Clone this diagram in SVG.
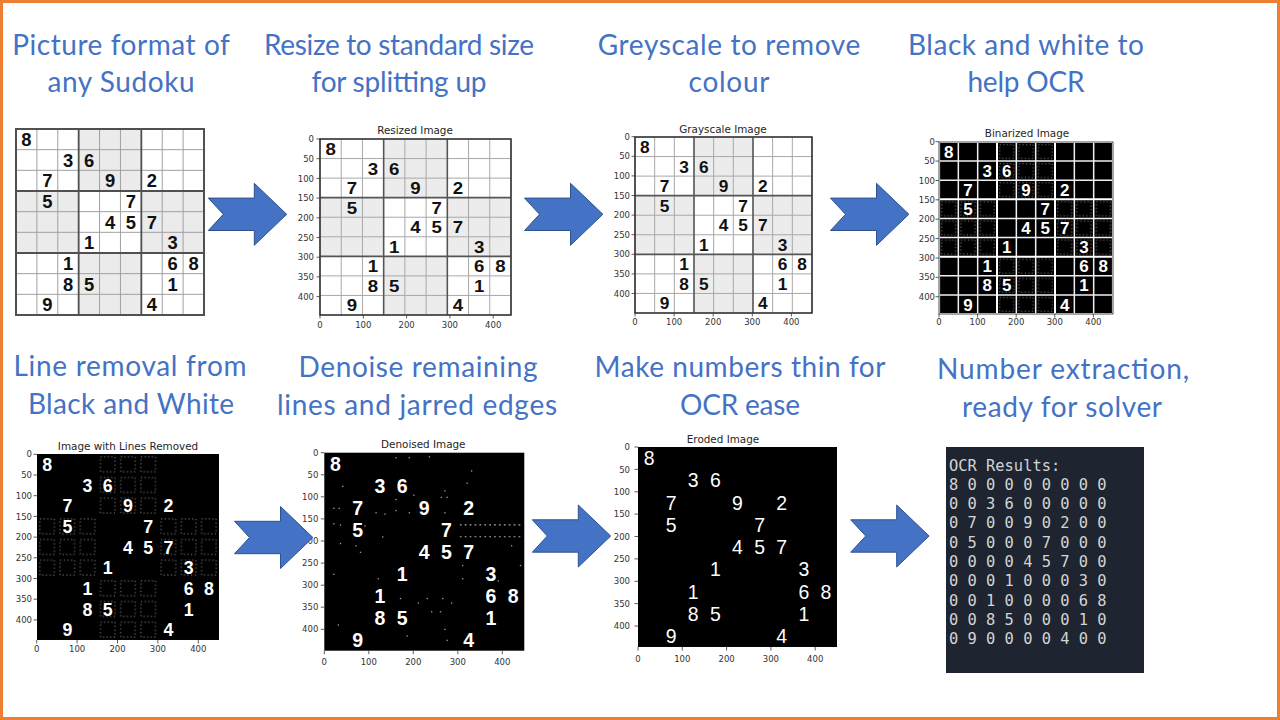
<svg xmlns="http://www.w3.org/2000/svg" xmlns:xlink="http://www.w3.org/1999/xlink" width="1280" height="720" viewBox="0 0 1280 720">
<style>
.hd{font-family:Lato,'Open Sans','Liberation Sans',sans-serif;font-size:28px;fill:#4472C4;text-anchor:middle}
.tt{font-family:'DejaVu Sans',sans-serif;font-size:10.4px;fill:#262626;text-anchor:middle}
.tx{font-family:'DejaVu Sans',sans-serif;font-size:8.5px;fill:#333;text-anchor:middle}
.ty{font-family:'DejaVu Sans',sans-serif;font-size:8.5px;fill:#333;text-anchor:end}
.tick{stroke:#333;stroke-width:0.8;fill:none}
.frame{fill:none;stroke:#222;stroke-width:0.8}
.arrow{fill:#4472C4;stroke:#2F528F;stroke-width:1}
.dg{font-family:'Liberation Sans',Arial,sans-serif;text-anchor:middle}
.ns{vector-effect:non-scaling-stroke}
.ocr{font-family:'DejaVu Sans Mono',monospace;font-size:15.4px;fill:#d4d4d4}
</style>
<defs>
<path id="arw" d="M0,-16.2 H46 V-31 L78.4,0 L46,31 V16.2 H0 L15,0 Z"/>
<g id="shade">
<rect x="150" y="0" width="150" height="150"/><rect x="0" y="150" width="150" height="150"/><rect x="300" y="150" width="150" height="150"/><rect x="150" y="300" width="150" height="150"/>
</g>
<path id="thin" class="ns" fill="none" d="M50 0V450M100 0V450M200 0V450M250 0V450M350 0V450M400 0V450M0 50H450M0 100H450M0 200H450M0 250H450M0 350H450M0 400H450"/>
<path id="thick" class="ns" fill="none" d="M150 0V450M300 0V450M0 150H450M0 300H450"/>
<rect id="border" class="ns" fill="none" x="0" y="0" width="450" height="450"/>
<pattern id="res" width="50" height="50" patternUnits="userSpaceOnUse">
<rect x="7" y="7" width="36" height="36" fill="none" stroke="#9a9a9a" stroke-width="2" stroke-dasharray="3 6"/>
</pattern>
<g id="residue" fill="url(#res)">
<rect x="150" y="0" width="150" height="150"/><rect x="0" y="150" width="150" height="150"/><rect x="300" y="150" width="150" height="150"/><rect x="150" y="300" width="150" height="150"/>
</g>
<g id="digits" class="dg">
<text x="25" y="41">8</text>
<text x="125" y="91">3</text><text x="175" y="91">6</text>
<text x="75" y="141">7</text><text x="225" y="141">9</text><text x="325" y="141">2</text>
<text x="75" y="191">5</text><text x="275" y="191">7</text>
<text x="225" y="241">4</text><text x="275" y="241">5</text><text x="325" y="241">7</text>
<text x="175" y="291">1</text><text x="375" y="291">3</text>
<text x="125" y="341">1</text><text x="375" y="341">6</text><text x="425" y="341">8</text>
<text x="125" y="391">8</text><text x="175" y="391">5</text><text x="375" y="391">1</text>
<text x="75" y="441">9</text><text x="325" y="441">4</text>
</g>
</defs>

<rect x="0" y="0" width="1280" height="720" fill="#ffffff"/>
<rect x="1.5" y="1.5" width="1277" height="717" fill="none" stroke="#ED7D31" stroke-width="3"/>

<g id="headings">
<g id="h1"><text class="hd" x="121" y="55" textLength="217.7">Picture format of</text><text class="hd" x="121" y="92" textLength="147.1">any Sudoku</text></g>
<g id="h2"><text class="hd" x="399" y="55" textLength="270">Resize to standard size</text><text class="hd" x="399" y="92" textLength="175">for splitting up</text></g>
<g id="h3"><text class="hd" x="729" y="55" textLength="262.5">Greyscale to remove</text><text class="hd" x="729" y="92" textLength="80.8">colour</text></g>
<g id="h4"><text class="hd" x="1026" y="55" textLength="236">Black and white to</text><text class="hd" x="1026" y="92" textLength="117.1">help OCR</text></g>
<g id="h5"><text class="hd" x="130" y="376" textLength="233">Line removal from</text><text class="hd" x="131" y="414" textLength="206.2">Black and White</text></g>
<g id="h6"><text class="hd" x="418" y="377" textLength="239">Denoise remaining</text><text class="hd" x="417" y="415" textLength="280">lines and jarred edges</text></g>
<g id="h7"><text class="hd" x="740" y="377" textLength="291">Make numbers thin for</text><text class="hd" x="740" y="415" textLength="119.9">OCR ease</text></g>
<g id="h8"><text class="hd" x="1063" y="379" textLength="252">Number extraction,</text><text class="hd" x="1062" y="417" textLength="200">ready for solver</text></g>
</g>

<g id="original">
<g transform="translate(16,129) scale(0.4178,0.4133)">
<rect x="0" y="0" width="450" height="450" fill="#fff"/>
<use xlink:href="#shade" fill="#ebebeb"/>
<use xlink:href="#thin" stroke="#a0a0a0" stroke-width="1"/>
<use xlink:href="#thick" stroke="#505050" stroke-width="1.8"/>
<use xlink:href="#border" stroke="#505050" stroke-width="2"/>
<use xlink:href="#digits" fill="#111" font-weight="bold" font-size="44"/>
</g>
</g>

<g id="resized">
<text class="tt" x="415" y="133.8">Resized Image</text>
<g transform="translate(320,139) scale(0.4244,0.3911)">
<rect x="0" y="0" width="450" height="450" fill="#fff"/>
<use xlink:href="#shade" fill="#ececec"/>
<use xlink:href="#thin" stroke="#a8a8a8" stroke-width="1"/>
<use xlink:href="#thick" stroke="#555" stroke-width="1.6"/>
<use xlink:href="#border" stroke="#555" stroke-width="1.6"/>
<use xlink:href="#digits" fill="#111" font-weight="bold" font-size="44"/>
</g>
<rect class="frame" x="320" y="139" width="191" height="176"/>
<path class="tick" d="M320 315v3.5M363.3 315v3.5M406.6 315v3.5M449.9 315v3.5M493.2 315v3.5M316.5 139h3.5M316.5 158.7h3.5M316.5 178.4h3.5M316.5 198.1h3.5M316.5 217.8h3.5M316.5 237.5h3.5M316.5 257.2h3.5M316.5 276.9h3.5M316.5 296.6h3.5"/>
<text class="tx" x="320" y="328">0</text><text class="tx" x="363.3" y="328">100</text><text class="tx" x="406.6" y="328">200</text><text class="tx" x="449.9" y="328">300</text><text class="tx" x="493.2" y="328">400</text>
<text class="ty" x="314" y="142.1">0</text><text class="ty" x="314" y="161.8">50</text><text class="ty" x="314" y="181.5">100</text><text class="ty" x="314" y="201.2">150</text><text class="ty" x="314" y="220.9">200</text><text class="ty" x="314" y="240.6">250</text><text class="ty" x="314" y="260.3">300</text><text class="ty" x="314" y="280">350</text><text class="ty" x="314" y="299.7">400</text>
</g>

<g id="grayscale">
<text class="tt" x="723" y="133.1">Grayscale Image</text>
<g transform="translate(635,137) scale(0.3933,0.3911)">
<rect x="0" y="0" width="450" height="450" fill="#fff"/>
<use xlink:href="#shade" fill="#ececec"/>
<use xlink:href="#thin" stroke="#a8a8a8" stroke-width="1"/>
<use xlink:href="#thick" stroke="#555" stroke-width="1.6"/>
<use xlink:href="#border" stroke="#555" stroke-width="1.6"/>
<use xlink:href="#digits" fill="#111" font-weight="bold" font-size="44"/>
</g>
<rect class="frame" x="635" y="137" width="177" height="176"/>
<path class="tick" d="M635 313v3.5M674.1 313v3.5M713.2 313v3.5M752.3 313v3.5M791.4 313v3.5M631.5 136.7h3.5M631.5 156.3h3.5M631.5 175.9h3.5M631.5 195.5h3.5M631.5 215.1h3.5M631.5 234.7h3.5M631.5 254.3h3.5M631.5 273.9h3.5M631.5 293.5h3.5"/>
<text class="tx" x="635" y="325">0</text><text class="tx" x="674.1" y="325">100</text><text class="tx" x="713.2" y="325">200</text><text class="tx" x="752.3" y="325">300</text><text class="tx" x="791.4" y="325">400</text>
<text class="ty" x="630" y="139.8">0</text><text class="ty" x="630" y="159.4">50</text><text class="ty" x="630" y="179">100</text><text class="ty" x="630" y="198.6">150</text><text class="ty" x="630" y="218.2">200</text><text class="ty" x="630" y="237.8">250</text><text class="ty" x="630" y="257.4">300</text><text class="ty" x="630" y="277">350</text><text class="ty" x="630" y="296.6">400</text>
</g>

<g id="binarized">
<text class="tt" x="1027" y="136.5">Binarized Image</text>
<g transform="translate(939,142) scale(0.3867,0.3822)">
<rect x="0" y="0" width="450" height="450" fill="#000"/>
<use xlink:href="#residue"/>
<use xlink:href="#thin" stroke="#f0f0f0" stroke-width="1.5"/>
<use xlink:href="#thick" stroke="#fff" stroke-width="2"/>
<use xlink:href="#border" stroke="#fff" stroke-width="2.2"/>
<use xlink:href="#digits" fill="#fff" font-weight="bold" font-size="44"/>
</g>
<rect class="frame" x="939" y="142" width="174" height="172"/>
<path class="tick" d="M939 314v3.5M977.6 314v3.5M1016.2 314v3.5M1054.8 314v3.5M1093.4 314v3.5M935.5 141.7h3.5M935.5 161.1h3.5M935.5 180.5h3.5M935.5 199.8h3.5M935.5 219.2h3.5M935.5 238.6h3.5M935.5 258h3.5M935.5 277.3h3.5M935.5 296.7h3.5"/>
<text class="tx" x="939" y="325">0</text><text class="tx" x="977.6" y="325">100</text><text class="tx" x="1016.2" y="325">200</text><text class="tx" x="1054.8" y="325">300</text><text class="tx" x="1093.4" y="325">400</text>
<text class="ty" x="935" y="144.8">0</text><text class="ty" x="935" y="164.2">50</text><text class="ty" x="935" y="183.6">100</text><text class="ty" x="935" y="202.9">150</text><text class="ty" x="935" y="222.3">200</text><text class="ty" x="935" y="241.7">250</text><text class="ty" x="935" y="261.1">300</text><text class="ty" x="935" y="280.4">350</text><text class="ty" x="935" y="299.8">400</text>
</g>

<g id="lines-removed">
<text class="tt" x="128" y="449.8">Image with Lines Removed</text>
<g transform="translate(37,454) scale(0.4044,0.4133)">
<rect x="0" y="0" width="450" height="450" fill="#000"/>
<use xlink:href="#residue"/>
<use xlink:href="#digits" fill="#fff" font-weight="bold" font-size="44"/>
</g>
<path class="tick" d="M36.7 640v3.5M77.1 640v3.5M117.5 640v3.5M157.9 640v3.5M198.3 640v3.5M33.5 454.3h3.5M33.5 475h3.5M33.5 495.7h3.5M33.5 516.4h3.5M33.5 537.1h3.5M33.5 557.8h3.5M33.5 578.5h3.5M33.5 599.2h3.5M33.5 619.9h3.5"/>
<text class="tx" x="36.7" y="651.5">0</text><text class="tx" x="77.1" y="651.5">100</text><text class="tx" x="117.5" y="651.5">200</text><text class="tx" x="157.9" y="651.5">300</text><text class="tx" x="198.3" y="651.5">400</text>
<text class="ty" x="32" y="457.4">0</text><text class="ty" x="32" y="478.1">50</text><text class="ty" x="32" y="498.8">100</text><text class="ty" x="32" y="519.5">150</text><text class="ty" x="32" y="540.2">200</text><text class="ty" x="32" y="560.9">250</text><text class="ty" x="32" y="581.6">300</text><text class="ty" x="32" y="602.3">350</text><text class="ty" x="32" y="623">400</text>
</g>

<g id="denoised">
<text class="tt" x="423.3" y="447.8">Denoised Image</text>
<g transform="translate(324.3,452.7) scale(0.4444,0.44)">
<rect x="0" y="0" width="450" height="450" fill="#000"/>
<path d="M305 164H445M305 191H445" stroke="#aaa" stroke-width="2.5" stroke-dasharray="4 7"/>
<g fill="#9a9a9a">
<rect x="160" y="10" width="3" height="3"/><rect x="190" y="10" width="3" height="3"/><rect x="235" y="8" width="3" height="3"/><rect x="330" y="40" width="3" height="3"/><rect x="320" y="68" width="3" height="3"/><rect x="40" y="75" width="3" height="3"/><rect x="200" y="95" width="3" height="3"/><rect x="262" y="100" width="3" height="3"/><rect x="275" y="100" width="3" height="3"/><rect x="270" y="85" width="3" height="3"/><rect x="160" y="105" width="3" height="3"/><rect x="20" y="125" width="3" height="3"/><rect x="32" y="125" width="3" height="3"/><rect x="115" y="135" width="3" height="3"/><rect x="135" y="138" width="3" height="3"/><rect x="160" y="130" width="3" height="3"/><rect x="190" y="135" width="3" height="3"/><rect x="270" y="135" width="3" height="3"/><rect x="20" y="160" width="3" height="3"/><rect x="35" y="163" width="3" height="3"/><rect x="90" y="165" width="3" height="3"/><rect x="130" y="190" width="3" height="3"/><rect x="35" y="205" width="3" height="3"/><rect x="70" y="210" width="3" height="3"/><rect x="80" y="225" width="3" height="3"/><rect x="420" y="210" width="3" height="3"/><rect x="440" y="255" width="3" height="3"/><rect x="20" y="275" width="3" height="3"/><rect x="120" y="285" width="3" height="3"/><rect x="310" y="285" width="3" height="3"/><rect x="390" y="290" width="3" height="3"/><rect x="310" y="255" width="3" height="3"/><rect x="170" y="330" width="3" height="3"/><rect x="210" y="340" width="3" height="3"/><rect x="230" y="330" width="3" height="3"/><rect x="265" y="330" width="3" height="3"/><rect x="285" y="340" width="3" height="3"/><rect x="240" y="360" width="3" height="3"/><rect x="260" y="360" width="3" height="3"/><rect x="30" y="390" width="3" height="3"/><rect x="185" y="415" width="3" height="3"/><rect x="270" y="400" width="3" height="3"/><rect x="275" y="425" width="3" height="3"/>
</g>
<use xlink:href="#digits" fill="#fff" font-weight="bold" font-size="44"/>
</g>
<path class="tick" d="M324.3 650.7v3.5M368.8 650.7v3.5M413.3 650.7v3.5M457.8 650.7v3.5M502.3 650.7v3.5M320.8 452.7h3.5M320.8 474.8h3.5M320.8 496.8h3.5M320.8 518.9h3.5M320.8 541h3.5M320.8 563.1h3.5M320.8 585.2h3.5M320.8 607.2h3.5M320.8 629.3h3.5"/>
<text class="tx" x="324.3" y="665">0</text><text class="tx" x="368.8" y="665">100</text><text class="tx" x="413.3" y="665">200</text><text class="tx" x="457.8" y="665">300</text><text class="tx" x="502.3" y="665">400</text>
<text class="ty" x="318.3" y="455.8">0</text><text class="ty" x="318.3" y="477.9">50</text><text class="ty" x="318.3" y="499.9">100</text><text class="ty" x="318.3" y="522">150</text><text class="ty" x="318.3" y="544.1">200</text><text class="ty" x="318.3" y="566.2">250</text><text class="ty" x="318.3" y="588.3">300</text><text class="ty" x="318.3" y="610.3">350</text><text class="ty" x="318.3" y="632.4">400</text>
</g>

<g id="eroded">
<text class="tt" x="723" y="443.1">Eroded Image</text>
<g transform="translate(638,447) scale(0.4422,0.4444)">
<rect x="0" y="0" width="450" height="450" fill="#000"/>
<use xlink:href="#digits" fill="#fff" font-weight="normal" font-size="44"/>
</g>
<path class="tick" d="M638 647v3.5M682.3 647v3.5M726.6 647v3.5M770.9 647v3.5M815.2 647v3.5M634.5 447h3.5M634.5 469.4h3.5M634.5 491.8h3.5M634.5 514.1h3.5M634.5 536.5h3.5M634.5 558.9h3.5M634.5 581.3h3.5M634.5 603.6h3.5M634.5 626h3.5"/>
<text class="tx" x="638" y="661.5">0</text><text class="tx" x="682.3" y="661.5">100</text><text class="tx" x="726.6" y="661.5">200</text><text class="tx" x="770.9" y="661.5">300</text><text class="tx" x="815.2" y="661.5">400</text>
<text class="ty" x="630" y="450.1">0</text><text class="ty" x="630" y="472.5">50</text><text class="ty" x="630" y="494.9">100</text><text class="ty" x="630" y="517.2">150</text><text class="ty" x="630" y="539.6">200</text><text class="ty" x="630" y="562">250</text><text class="ty" x="630" y="584.4">300</text><text class="ty" x="630" y="606.7">350</text><text class="ty" x="630" y="629.1">400</text>
</g>

<g id="ocr-results">
<rect x="946" y="447" width="198" height="226" fill="#1e2530"/>
<g class="ocr">
<text x="949" y="470.5">OCR Results:</text>
<text x="949" y="489.8">8 0 0 0 0 0 0 0 0</text>
<text x="949" y="509.1">0 0 3 6 0 0 0 0 0</text>
<text x="949" y="528.4">0 7 0 0 9 0 2 0 0</text>
<text x="949" y="547.7">0 5 0 0 0 7 0 0 0</text>
<text x="949" y="567">0 0 0 0 4 5 7 0 0</text>
<text x="949" y="586.3">0 0 0 1 0 0 0 3 0</text>
<text x="949" y="605.6">0 0 1 0 0 0 0 6 8</text>
<text x="949" y="624.9">0 0 8 5 0 0 0 1 0</text>
<text x="949" y="644.2">0 9 0 0 0 0 4 0 0</text>
</g>
</g>

<g id="connectors">
<use xlink:href="#arw" class="arrow" x="208.3" y="214.3"/>
<use xlink:href="#arw" class="arrow" x="524.5" y="214.3"/>
<use xlink:href="#arw" class="arrow" x="830.5" y="214.3"/>
<use xlink:href="#arw" class="arrow" x="234.5" y="537.5"/>
<use xlink:href="#arw" class="arrow" x="532.3" y="536"/>
<use xlink:href="#arw" class="arrow" x="850.7" y="536"/>
</g>
</svg>
